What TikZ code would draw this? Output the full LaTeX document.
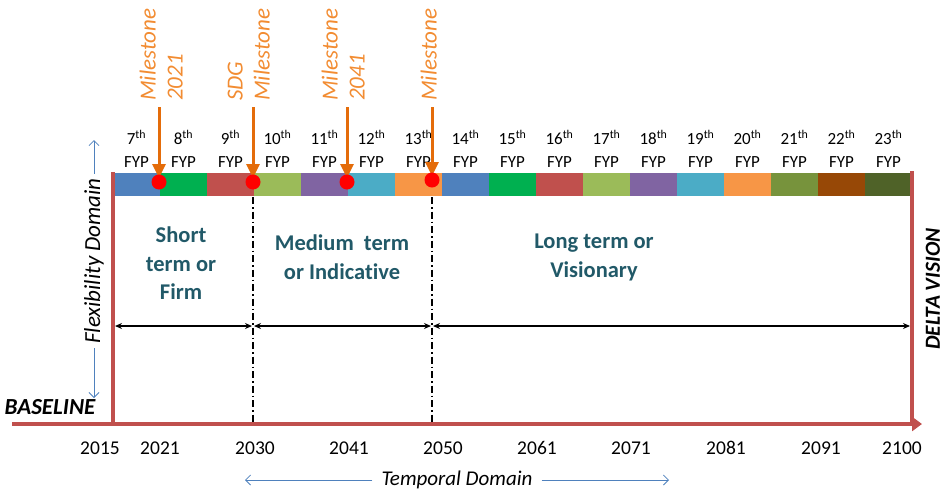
\documentclass[tikz,border=0pt]{standalone}
\usepackage{fontspec}
\setmainfont{Carlito}[Ligatures=NoCommon]
\usetikzlibrary{arrows.meta}
\definecolor{rline}{HTML}{C0504D}
\definecolor{oarrow}{HTML}{E46C0A}
\definecolor{otext}{RGB}{242,140,50}
\definecolor{teal}{HTML}{215968}
\definecolor{bluel}{HTML}{4F81BD}
\definecolor{cA}{HTML}{4F81BD}
\definecolor{cB}{HTML}{00B050}
\definecolor{cC}{HTML}{C0504D}
\definecolor{cD}{HTML}{9BBB59}
\definecolor{cE}{HTML}{8064A2}
\definecolor{cF}{HTML}{4BACC6}
\definecolor{cG}{HTML}{F79646}
\definecolor{cH}{HTML}{77933C}
\definecolor{cI}{HTML}{974806}
\definecolor{cJ}{HTML}{4F6228}
\begin{document}
\begin{tikzpicture}[x=1pt,y=-1pt,
  seg/.style={rectangle,draw=none,minimum width=47pt,minimum height=23pt,inner sep=0pt},
  fyp/.style={align=center,inner sep=0pt,font=\fontsize{17}{23}\selectfont},
  year/.style={inner sep=0pt,font=\fontsize{19.5}{22}\selectfont},
  redline/.style={draw=rline,line width=4pt},
  dd/.style={draw=black,line width=1.2pt,dash pattern=on 7pt off 3pt on 1.5pt off 3pt},
  span/.style={draw=black,line width=1.3pt,{Stealth[length=7pt,width=6pt]}-{Stealth[length=7pt,width=6pt]}},
  ms/.style={draw=oarrow,line width=3pt,-{Triangle[length=14pt,width=13pt]},shorten >=4pt},
  dot/.style={circle,fill=red,draw=none,minimum size=15pt,inner sep=0pt},
  mstext/.style={rotate=90,anchor=south west,align=left,inner sep=0pt,text=otext,font=\fontsize{23}{27}\itshape\selectfont},
  region/.style={align=center,inner sep=0pt,text=teal,font=\fontsize{22.5}{28.5}\bfseries\selectfont},
  bluearrow/.style={draw=bluel,line width=0.8pt,-{Straight Barb[length=5pt,width=10pt]}},
  bigbi/.style={inner sep=0pt,font=\fontsize{23}{26}\bfseries\itshape\selectfont}
]
\useasboundingbox (0,0) rectangle (946,496);

% coloured bar of plans
\foreach \n/\c [count=\i from 0] in {7/cA,8/cB,9/cC,10/cD,11/cE,12/cF,13/cG,14/cA,15/cB,16/cC,17/cD,18/cE,19/cF,20/cG,21/cH,22/cI,23/cJ}{
  \node[seg,fill=\c] (s\n) at ({136.5+47*\i},184.5) {};
  \node[fyp] (f\n) at ({136.5+47*\i},149) {\n\textsuperscript{th}\\FYP};
}

% red frame
\coordinate (lt) at (113,172);
\coordinate (lb) at (113,426);
\coordinate (rt) at (912,171);
\coordinate (rb) at (912,424);
\coordinate (bl) at (12,424);
\coordinate (br) at (922,424);
\draw[redline] (lt) -- (lb);
\draw[redline] (rt) -- (rb);
\draw[redline,-{Triangle[length=10pt,width=14pt]}] (bl) -- (br);

% dash-dot separators
\coordinate (da) at (253,197);
\coordinate (db) at (253,423);
\coordinate (dc) at (432,197);
\coordinate (de) at (432,423);
\draw[dd] (da) -- (db);
\draw[dd] (dc) -- (de);

% horizontal spans
\coordinate (h0) at (115,326);
\coordinate (h1) at (252,326);
\coordinate (h2) at (254,326);
\coordinate (h3) at (431,326);
\coordinate (h4) at (433,326);
\coordinate (h5) at (910,326);
\draw[span] (h0) -- (h1);
\draw[span] (h2) -- (h3);
\draw[span] (h4) -- (h5);

% milestones
\coordinate (mt1) at (159,107); \coordinate (dc1) at (159,182);
\coordinate (mt2) at (253,107); \coordinate (dc2) at (253,182);
\coordinate (mt3) at (347,107); \coordinate (dc3) at (347,182);
\coordinate (mt4) at (432,107); \coordinate (dc4) at (432,180);
\draw[ms] (mt1) -- (dc1);
\draw[ms] (mt2) -- (dc2);
\draw[ms] (mt3) -- (dc3);
\draw[ms] (mt4) -- (dc4);
\node[dot] (d1) at (dc1) {};
\node[dot] (d2) at (dc2) {};
\node[dot] (d3) at (dc3) {};
\node[dot] (d4) at (dc4) {};
\node[mstext] (l1) at (183,101) {Milestone\\2021};
\node[mstext] (l2) at (270,101) {SDG\\Milestone};
\node[mstext] (l3) at (365,101) {Milestone\\2041};
\node[mstext] (l4) at (437,101) {Milestone};

% region texts
\node[region] (r1) at (181,263.5) {Short\\term or\\Firm};
\node[region] (r2) at (342,257) {Medium\ \ term\\or Indicative};
\node[region] (r3) at (594,257.5) {Long term or\\Visionary};

% years
\node[year] (y2015) at (100,448) {2015};
\node[year] (y2021) at (160,448) {2021};
\node[year] (y2030) at (255,448) {2030};
\node[year] (y2041) at (349,448) {2041};
\node[year] (y2050) at (443,448) {2050};
\node[year] (y2061) at (537,448) {2061};
\node[year] (y2071) at (631,448) {2071};
\node[year] (y2081) at (726,448) {2081};
\node[year] (y2091) at (821,448) {2091};
\node[year] (y2100) at (902,448) {2100};

% temporal domain
\node[inner sep=0pt,font=\fontsize{21}{24}\itshape\selectfont] (td) at (457,480) {Temporal Domain};
\coordinate (tl) at (245,480);
\coordinate (tr) at (669,480);
\draw[bluearrow,shorten <=9pt] (td.west) -- (tl);
\draw[bluearrow,shorten <=9pt] (td.east) -- (tr);

% flexibility domain
\coordinate (ft) at (94,140);
\coordinate (fb) at (94,398);
\draw[bluearrow,{Straight Barb[length=5pt,width=10pt]}-{Straight Barb[length=5pt,width=10pt]}] (fb) -- (ft);
\node[rotate=90,fill=white,inner sep=4pt,font=\fontsize{23}{26}\itshape\selectfont] (fd) at (94,261) {Flexibility Domain};

% side labels
\node[bigbi] (base) at (50,407) {BASELINE};
\node[bigbi,rotate=90,font=\fontsize{21.5}{24}\bfseries\itshape\selectfont] (delta) at (933,289) {DELTA VISION};
\end{tikzpicture}
\end{document}
